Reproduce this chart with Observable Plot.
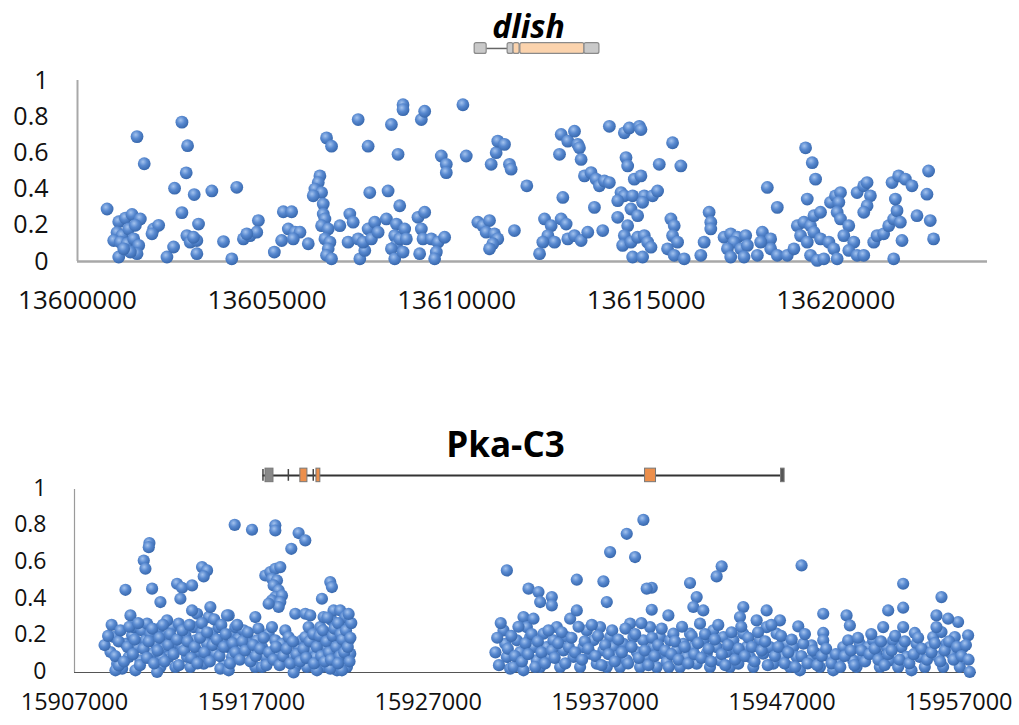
<!DOCTYPE html>
<html><head><meta charset="utf-8">
<script src="https://cdn.jsdelivr.net/npm/d3@7"></script>
<script src="https://cdn.jsdelivr.net/npm/@observablehq/plot@0.6"></script>
<style>body{margin:0;background:#fff;} #chart{width:1019px;} svg{display:block;}</style>
</head><body><div id="chart"></div>
<script>
// ---------- dlish ----------
const dlishTitle = "dlish";
const dlishDomain = [13600000, 13624000];
const dlishTicks = [13600000, 13605000, 13610000, 13615000, 13620000];
const dlishData = [
[13600780,0.29],[13601570,0.69],[13601760,0.54],[13602754,0.77],[13602903,0.64],[13602867,0.49],[13602560,0.405],[13603078,0.37],[13603543,0.39],[13604200,0.41],[13602754,0.27],
[13601087,0.22],[13601263,0.24],[13601438,0.26],[13601657,0.235],[13601043,0.16],[13601175,0.143],[13601350,0.18],[13601526,0.2],[13600955,0.116],[13601130,0.107],[13601306,0.098],[13601482,0.125],[13601614,0.089],[13601087,0.025],[13601570,0.043],[13601394,0.052],[13601219,0.07],
[13602008,0.18],[13602140,0.2],[13601964,0.153],[13602359,0.025],[13602534,0.08],[13602885,0.143],[13602973,0.107],[13603148,0.116],[13603192,0.207],[13603148,0.043],[13603060,0.134],[13603850,0.11],[13604069,0.015],[13604376,0.125],[13604551,0.143],[13604770,0.226],[13604727,0.162],[13604464,0.153],
[13605191,0.052],[13605428,0.275],[13605648,0.275],[13605560,0.18],[13605384,0.116],[13605735,0.162],[13605867,0.162],[13605691,0.125],[13606086,0.098],
[13606393,0.473],[13606349,0.436],[13606261,0.40],[13606437,0.381],[13606217,0.363],[13606481,0.317],[13606481,0.262],[13606525,0.235],[13606437,0.198],[13606612,0.18],[13606525,0.125],[13606656,0.107],[13606612,0.07],[13606568,0.034],[13606700,0.015],[13606568,0.683],[13606700,0.637],
[13606919,0.198],[13607182,0.262],[13607270,0.217],[13607138,0.107],[13607402,0.125],[13607446,0.015],[13607577,0.061],[13607665,0.18],[13607708,0.381],[13607665,0.637],[13607402,0.784],[13607533,0.107],[13607752,0.125],
[13607840,0.217],[13607928,0.162],[13608147,0.235],[13608191,0.39],[13608279,0.757],[13608454,0.592],[13608585,0.866],[13608585,0.839],[13608498,0.308],[13608410,0.207],[13608366,0.143],[13608410,0.089],[13608498,0.125],[13608279,0.07],[13608366,0.015],[13608629,0.18],[13608673,0.125],[13608585,0.052],
[13608980,0.244],[13609156,0.272],[13609068,0.18],[13609112,0.125],[13609024,0.043],[13609068,0.784],[13609156,0.83],[13609331,0.125],[13609506,0.107],[13609594,0.583],[13609726,0.537],[13609726,0.491],[13609682,0.134],[13609463,0.052],[13609419,0.015],[13610164,0.866],[13610252,0.583],
[13610559,0.217],[13610690,0.198],[13610866,0.226],[13610778,0.162],[13610997,0.153],[13611085,0.125],[13610953,0.098],[13610866,0.07],[13611523,0.171],[13610910,0.537],[13611041,0.601],[13611085,0.665],[13611261,0.647],[13611392,0.537],[13611436,0.51],[13611850,0.418],
[13612756,0.702],[13612931,0.665],[13613107,0.72],[13613194,0.647],[13613238,0.628],[13613282,0.564],[13612712,0.592],[13612800,0.354],[13613370,0.473],[13613545,0.491],[13613677,0.455],[13613764,0.418],[13613896,0.445],[13614027,0.436],[13613633,0.299],[13613852,0.171],
[13612317,0.235],[13612493,0.198],[13612756,0.235],[13612887,0.207],[13612405,0.143],[13612580,0.107],[13612931,0.125],[13613107,0.143],[13613282,0.116],[13613457,0.162],[13612273,0.107],[13612186,0.043],
[13614027,0.747],[13614422,0.711],[13614553,0.738],[13614817,0.747],[13614860,0.729],[13614466,0.574],[13614510,0.528],[13614685,0.455],[13614860,0.473],[13614334,0.381],[13614422,0.363],[13614247,0.336],[13614641,0.363],[13614948,0.363],[13615167,0.363],[13615299,0.39],[13614247,0.244],[13614597,0.29],[13614773,0.253],[13614904,0.327],[13614510,0.198],[13614422,0.143],[13614378,0.089],[13614597,0.107],[13614773,0.134],[13614948,0.143],[13615036,0.107],[13615124,0.079],[13614641,0.025],[13614904,0.025],[13615343,0.537],[13615694,0.656],[13615913,0.528],
[13615650,0.235],[13615738,0.198],[13615694,0.143],[13615825,0.107],[13615562,0.07],[13615738,0.034],[13616001,0.015],
[13616658,0.272],[13616702,0.217],[13616702,0.18],[13616527,0.107],[13616439,0.034],
[13617053,0.134],[13617228,0.153],[13617404,0.134],[13617623,0.143],[13617316,0.107],[13617141,0.07],[13617492,0.07],[13617667,0.089],[13617228,0.025],[13617579,0.025],[13617930,0.034],
[13618062,0.162],[13618281,0.125],[13618281,0.07],[13618018,0.107],[13618456,0.034],[13618193,0.409],[13618456,0.299],
[13618719,0.034],[13618895,0.07],[13618983,0.198],[13619158,0.217],[13619333,0.198],[13619070,0.143],[13619246,0.107],[13619421,0.162],[13619596,0.125],[13619333,0.034],[13619509,0.006],[13619684,0.015],[13619816,0.107],[13619947,0.07],[13620035,0.015],[13619246,0.345],[13619421,0.253],[13619596,0.272],[13619202,0.628],[13619377,0.546],[13619465,0.455],
[13619860,0.327],[13619991,0.363],[13620123,0.381],[13620079,0.327],[13620035,0.272],[13620123,0.235],[13620342,0.198],[13620210,0.143],[13620473,0.107],[13620342,0.061],[13620561,0.034],[13620736,0.034],[13620561,0.381],[13620736,0.418],[13620824,0.436],[13620912,0.363],[13620824,0.308],[13620736,0.272],
[13621000,0.107],[13621087,0.143],[13621262,0.153],[13621394,0.198],[13621526,0.235],[13621614,0.281],[13621570,0.345],[13621482,0.436],[13621657,0.473],[13621833,0.455],[13622008,0.418],[13622140,0.253],[13621701,0.217],[13621745,0.116],[13621526,0.015],[13622446,0.5],[13622403,0.372],[13622490,0.226],[13622578,0.125]
];
// gene model (genomic start/end of each feature)
const dlishIntrons = [[13610791, 13611344]];
const dlishExons = [
  [13610475, 13610791, "utr"],
  [13611344, 13611500, "utr"],
  [13611500, 13611660, "cds"],
  [13611680, 13613371, "cds"],
  [13613371, 13613765, "utr"]
];

// ---------- Pka-C3 ----------
const pkaTitle = "Pka-C3";
const pkaDomain = [15907000, 15958000];
const pkaTicks = [15907000, 15917000, 15927000, 15937000, 15947000, 15957000];
const pkaData = [
[15916057,0.807],[15917036,0.78],[15918354,0.804],[15918354,0.776],[15919672,0.762],[15920049,0.722],[15919258,0.676],[15911236,0.707],[15911199,0.685],[15910916,0.612],[15911010,0.567],[15909881,0.452],[15911387,0.458],[15911858,0.385],[15912799,0.485],[15913082,0.463],[15913647,0.476],[15912987,0.403],[15914211,0.576],[15914494,0.558],[15914306,0.525],[15917789,0.53],[15918072,0.549],[15918354,0.567],[15918636,0.576],[15918166,0.512],[15918448,0.503],[15918260,0.476],[15918542,0.449],[15918354,0.412],[15918166,0.394],[15918731,0.421],[15918636,0.385],[15918542,0.358],[15917977,0.376],[15921461,0.494],[15921555,0.467],[15920990,0.403],[15919484,0.321],[15920049,0.321],[15920331,0.312],[15917224,0.303],[15915718,0.312],
[15909221,0.194],[15909033,0.112],[15909410,0.048],[15909692,0.021],[15909881,0.157],[15910257,0.203],[15910163,0.312],[15910351,0.248],[15910540,0.139],[15910069,0.085],[15910728,0.066],[15910822,0.23],[15911010,0.176],[15909316,0.012],[15909504,0.039],[15910445,0.012],
[15911104,0.267],[15911293,0.212],[15911575,0.157],[15911387,0.103],[15911764,0.239],[15911858,0.03],[15911669,0.003],[15912046,0.13],[15912140,0.194],[15912328,0.085],[15912517,0.248],[15912611,0.157],[15912705,0.03],[15912234,0.285],[15911952,0.076],
[15912893,0.267],[15913082,0.139],[15913270,0.203],[15913364,0.085],[15913552,0.03],[15913741,0.248],[15913835,0.176],[15913929,0.321],[15914023,0.112],[15914211,0.221],[15914306,0.048],[15914494,0.157],[15914588,0.303],[15914682,0.358],[15914400,0.085],[15913647,0.339],
[15914776,0.212],[15914965,0.103],[15915153,0.248],[15915341,0.176],[15915435,0.039],[15915624,0.312],[15915718,0.139],[15915906,0.212],[15915906,0.085],[15916094,0.248],[15916283,0.185],[15916471,0.13],[15915247,0.021],[15915718,0.012],
[15916565,0.23],[15916753,0.194],[15916848,0.157],[15917036,0.103],[15917224,0.03],[15917318,0.176],[15917601,0.139],[15917789,0.085],[15917977,0.212],[15918166,0.248],[15918354,0.176],[15917601,0.03],
[15918542,0.103],[15918731,0.157],[15918919,0.23],[15919107,0.194],[15919296,0.085],[15919484,0.03],[15919672,0.139],[15919860,0.176],[15920049,0.194],[15920237,0.248],[15919390,0.0],[15920143,0.03],
[15920425,0.121],[15920614,0.085],[15920802,0.176],[15920896,0.248],[15920990,0.03],[15921179,0.139],[15921367,0.212],[15921555,0.285],[15921649,0.339],[15921743,0.103],[15921932,0.176],[15922026,0.339],[15922120,0.248],[15922214,0.139],[15922308,0.066],[15922402,0.03],[15922497,0.176],[15922308,0.303],[15921838,0.012],[15921461,0.021],[15921273,0.085],[15921084,0.303],[15922120,0.012],[15922591,0.103],[15920708,0.012],
[15908700,0.15],[15908900,0.20],[15909100,0.26],[15909300,0.09],[15909500,0.17],[15909600,0.23],[15909800,0.06],[15910000,0.14],[15910100,0.25],[15910300,0.10],[15910400,0.18],[15910600,0.27],[15910700,0.04],[15910900,0.13],[15911100,0.08],[15911200,0.17],[15911400,0.24],[15911500,0.05],[15911700,0.12],[15911800,0.19],[15912000,0.26],[15912100,0.06],[15912300,0.15],[15912400,0.21],[15912600,0.10],[15912800,0.18],[15912900,0.04],[15913100,0.23],[15913200,0.12],[15913400,0.17],[15913500,0.26],[15913600,0.08],[15913800,0.14],[15913950,0.05],[15914100,0.19],[15914200,0.27],[15914350,0.11],[15914500,0.22],[15914650,0.06],[15914800,0.15],[15914900,0.29],[15915050,0.18],[15915200,0.09],[15915300,0.26],[15915450,0.14],[15915550,0.21],[15915800,0.05],[15915950,0.16],[15916100,0.11],[15916200,0.26],[15916350,0.07],[15916500,0.17],[15916650,0.12],[15916800,0.22],[15916950,0.06],[15917100,0.15],[15917250,0.09],[15917400,0.24],[15917500,0.13],[15917700,0.19],[15917850,0.04],[15918000,0.11],[15918250,0.07],[15918400,0.14],[15918600,0.04],[15918800,0.09],[15919000,0.13],[15919200,0.05],[15919350,0.17],[15919550,0.10],[15919750,0.06],[15919950,0.13],[15920100,0.08],[15920300,0.17],[15920500,0.21],[15920550,0.05],[15920700,0.14],[15920850,0.20],[15920950,0.09],[15921050,0.23],[15921150,0.06],[15921250,0.17],[15921300,0.30],[15921400,0.11],[15921500,0.07],[15921600,0.20],[15921700,0.24],[15921800,0.14],[15921900,0.27],[15922000,0.09],[15922050,0.21],[15922150,0.18],[15922250,0.11],[15922350,0.23],[15922450,0.14],[15922550,0.06],[15922600,0.19],[15922650,0.27],[15922500,0.32],[15921900,0.05],
[15939166,0.834],[15938224,0.758],[15937283,0.658],[15938695,0.631],[15931446,0.558],[15935400,0.507],[15936906,0.498],[15939637,0.463],[15939354,0.458],[15941802,0.489],[15943591,0.58],[15943308,0.525],[15948110,0.585],[15953853,0.485],[15956019,0.412],[15953853,0.354],[15932670,0.458],[15933234,0.44],[15933988,0.412],[15933988,0.367],[15933329,0.385],[15937095,0.385],[15939637,0.343],[15940578,0.312],[15942179,0.412],[15941990,0.358],[15942555,0.339],[15944815,0.358],[15946133,0.339],[15949334,0.321],[15950652,0.312],[15953006,0.339],[15955736,0.312],[15950840,0.257],[15949334,0.216],[15954512,0.216],[15956960,0.276],[15947922,0.252],[15948675,0.148],
[15931257,0.23],[15931351,0.157],[15931446,0.085],[15931634,0.021],[15932010,0.176],[15932199,0.112],[15932387,0.303],[15932575,0.248],[15932764,0.194],[15932952,0.139],[15933140,0.066],[15933329,0.03],[15932952,0.294],[15931822,0.03],[15932387,0.012],
[15933517,0.212],[15933705,0.139],[15933893,0.085],[15934082,0.176],[15934270,0.248],[15934458,0.03],[15934647,0.121],[15934835,0.194],[15935023,0.294],[15935212,0.085],[15935400,0.339],[15935588,0.03],[15935776,0.139],[15935965,0.23],[15936153,0.103],
[15936341,0.176],[15936530,0.048],[15936718,0.248],[15936906,0.121],[15937095,0.03],[15937283,0.194],[15937471,0.139],[15937659,0.085],[15937848,0.03],[15938036,0.157],[15938224,0.066],[15938413,0.267],[15938601,0.194],[15938789,0.112],[15938978,0.03],
[15939166,0.176],[15939354,0.085],[15939542,0.248],[15939731,0.139],[15939919,0.03],[15940107,0.194],[15940296,0.103],[15940484,0.057],[15940672,0.176],[15940861,0.212],[15941049,0.121],[15941237,0.03],[15941425,0.157],[15941614,0.085],[15941802,0.212],
[15941990,0.139],[15942179,0.048],[15942367,0.267],[15942555,0.176],[15942744,0.103],[15942932,0.03],[15943120,0.23],[15943308,0.139],[15943497,0.066],[15943685,0.194],[15943873,0.112],[15944062,0.03],[15944250,0.176],[15944438,0.121],[15944627,0.303],[15944532,0.048],
[15944815,0.212],[15945003,0.139],[15945191,0.085],[15945380,0.03],[15945568,0.285],[15945756,0.176],[15945945,0.103],[15946133,0.248],[15946321,0.139],[15946510,0.048],[15946698,0.212],[15946886,0.285],[15947074,0.085],[15947263,0.157],[15947451,0.03],
[15947639,0.139],[15947828,0.085],[15948016,0.012],[15948204,0.157],[15948581,0.066],[15948957,0.103],[15949146,0.03],[15949334,0.176],[15949711,0.085],[15949899,0.012],[15950181,0.048],
[15950464,0.139],[15950746,0.176],[15951029,0.066],[15951217,0.03],[15951405,0.157],[15951594,0.085],[15951876,0.139],[15952159,0.176],[15952347,0.103],[15952535,0.03],[15952723,0.248],[15952912,0.139],[15953100,0.066],
[15953288,0.176],[15953571,0.03],[15953759,0.139],[15953853,0.248],[15954042,0.085],[15954324,0.012],[15954606,0.157],[15954795,0.085],[15955077,0.03],[15955360,0.139],[15955548,0.194],[15955830,0.085],[15956019,0.221],[15956113,0.03],[15956301,0.157],[15956584,0.103],[15956772,0.194],[15957054,0.03],[15957243,0.139],[15957525,0.203],[15957619,0.003],[15955736,0.248],[15956395,0.294],
[15930800,0.11],[15930900,0.19],[15931000,0.04],[15931100,0.27],[15931500,0.13],[15931700,0.20],[15931900,0.09],[15932100,0.25],[15932300,0.06],[15932500,0.16],[15932650,0.10],[15932850,0.21],[15933050,0.03],[15933200,0.17],[15933400,0.11],[15933600,0.05],[15933800,0.23],[15934000,0.12],[15934150,0.08],[15934350,0.16],[15934550,0.22],[15934750,0.05],[15934950,0.14],[15935100,0.19],[15935300,0.11],[15935500,0.25],[15935700,0.07],[15935850,0.17],[15936050,0.13],[15936250,0.26],[15936450,0.09],[15936600,0.20],[15936800,0.04],[15937000,0.15],[15937200,0.10],[15937400,0.23],[15937550,0.06],[15937750,0.18],[15937950,0.11],[15938150,0.24],[15938300,0.05],[15938500,0.14],[15938700,0.21],[15938900,0.08],[15939050,0.27],[15939250,0.12],[15939450,0.04],[15939650,0.19],[15939800,0.09],[15940000,0.15],[15940200,0.24],[15940400,0.12],[15940600,0.03],[15940750,0.10],[15940950,0.17],[15941150,0.07],[15941350,0.25],[15941500,0.14],[15941700,0.05],[15941900,0.20],[15942050,0.10],[15942250,0.16],[15942450,0.08],[15942650,0.21],[15942850,0.13],[15943000,0.06],[15943200,0.18],[15943400,0.26],[15943600,0.10],[15943800,0.04],[15943950,0.15],[15944150,0.22],[15944350,0.07],[15944550,0.13],[15944700,0.25],[15944900,0.09],[15945100,0.19],[15945300,0.14],[15945450,0.06],[15945650,0.22],[15945850,0.12],[15946050,0.17],[15946200,0.04],[15946400,0.26],[15946600,0.09],[15946800,0.14],[15946950,0.20],[15947150,0.05],[15947350,0.11],[15947550,0.18],[15947750,0.03],[15948100,0.09],[15948300,0.21],[15948450,0.05],[15948750,0.12],[15949000,0.04],[15949250,0.09],[15949500,0.13],[15949800,0.05],[15950050,0.10],[15950300,0.03],[15950550,0.09],[15950900,0.12],[15951100,0.04],[15951300,0.19],[15951500,0.12],[15951700,0.06],[15951950,0.10],[15952050,0.21],[15952250,0.13],[15952450,0.07],[15952600,0.17],[15952800,0.04],[15953000,0.10],[15953200,0.12],[15953400,0.20],[15953650,0.07],[15953950,0.17],[15954200,0.05],[15954450,0.10],[15954700,0.19],[15954900,0.13],[15955200,0.07],[15955450,0.11],[15955650,0.16],[15955950,0.06],[15956200,0.12],[15956450,0.17],[15956700,0.07],[15956900,0.14],[15957150,0.09],[15957400,0.15],[15957550,0.07]
];
const pkaIntrons = [[15917656, 15946950]];
const pkaExons = [
  [15917800, 15918250, "utr"],
  [15919770, 15920170, "cds"],
  [15920680, 15920900, "cds"],
  [15939260, 15939880, "cds"],
  [15946950, 15947150, "end"]
];
const pkaTicksGene = [15917656, 15919091, 15920500];

const yTicks = [0, 0.2, 0.4, 0.6, 0.8, 1];

function addBalls(svg, id) {
  const s = d3.select(svg);
  s.insert("defs", ":first-child").html(
    `<radialGradient id="${id}" cx="0.4" cy="0.35" r="0.7">
      <stop offset="0" stop-color="#a4c3ee"/>
      <stop offset="0.45" stop-color="#5889d0"/>
      <stop offset="1" stop-color="#3363a8"/>
    </radialGradient>`);
  s.selectAll('g[aria-label="dot"]').attr("fill", `url(#${id})`);
  s.selectAll('g[aria-label="dot"] circle').attr("fill", `url(#${id})`);
}

const fillOf = k => k === "cds" ? "#fbd3ad" : k === "end" ? "#555" : "#c9c9c9";

const dlishPlot = Plot.plot({
  width: 1019, height: 330,
  marginTop: 80, marginBottom: 69, marginLeft: 77, marginRight: 32,
  style: {fontFamily: "'Open Sans', sans-serif", color: "#111", background: "white", overflow: "visible"},
  x: {domain: dlishDomain},
  y: {domain: [0, 1]},
  marks: [
    Plot.axisX(dlishTicks, {tickSize: 0, tickPadding: 29, fontSize: 26, tickFormat: d => String(d)}),
    Plot.axisY(yTicks, {tickSize: 0, tickPadding: 29, fontSize: 25, tickFormat: d => String(d)}),
    Plot.ruleX([dlishDomain[0]], {y1: 0, y2: 1, stroke: "#a8a8a8", strokeWidth: 2}),
    Plot.ruleY([0], {x1: dlishDomain[0], x2: dlishDomain[1], stroke: "#a8a8a8", strokeWidth: 2.5}),
    Plot.ruleY(dlishIntrons, {x1: d => d[0], x2: d => d[1], y: 1.177, stroke: "#666", strokeWidth: 1.5}),
    Plot.rect(dlishExons, {x1: d => d[0], x2: d => d[1], y1: 1.147, y2: 1.207, fill: d => fillOf(d[2]), stroke: "#8a8a8a", strokeWidth: 1.2, rx: 2}),
    Plot.dot(dlishData, {x: d => d[0], y: d => d[1], r: 6.4, fill: "#4f81bd"}),
    Plot.text([dlishTitle], {frameAnchor: "top", lineAnchor: "bottom", dy: -43, dx: -4, fontSize: 32, fontWeight: "bold", fontStyle: "italic", fill: "#000"})
  ]
});
addBalls(dlishPlot, "ballTop");

const pkaPlot = Plot.plot({
  width: 1019, height: 395,
  marginTop: 159, marginBottom: 53, marginLeft: 74, marginRight: 43,
  style: {fontFamily: "'Open Sans', sans-serif", color: "#111", background: "white", overflow: "visible"},
  x: {domain: pkaDomain},
  y: {domain: [0, 1]},
  marks: [
    Plot.axisX(pkaTicks, {tickSize: 0, tickPadding: 21, fontSize: 23.5, tickFormat: d => String(d)}),
    Plot.axisY(yTicks, {tickSize: 0, tickPadding: 28, fontSize: 23, dy: -1, tickFormat: d => String(d)}),
    Plot.ruleX([pkaDomain[0]], {y1: 0, y2: 1, stroke: "#9a9a9a", strokeWidth: 1.2}),
    Plot.ruleY([0], {x1: pkaDomain[0], x2: pkaDomain[1], stroke: "#555", strokeWidth: 1.2}),
    Plot.ruleY(pkaIntrons, {x1: d => d[0], x2: d => d[1], y: 1.077, stroke: "#333", strokeWidth: 2}),
    Plot.ruleX(pkaTicksGene, {x: d => d, y1: 1.045, y2: 1.109, stroke: "#444", strokeWidth: 1.5}),
    Plot.rect(pkaExons, {x1: d => d[0], x2: d => d[1], y1: 1.04, y2: 1.114, fill: d => d[2] === "cds" ? "#ec8f4c" : d[2] === "end" ? "#555" : "#888", stroke: "#777", strokeWidth: 1}),
    Plot.dot(pkaData, {x: d => d[0], y: d => d[1], r: 6.1, fill: "#4f81bd"}),
    Plot.text([pkaTitle], {frameAnchor: "top", lineAnchor: "bottom", dy: -33, dx: -20, fontSize: 35, fontWeight: "bold", fill: "#000"})
  ]
});
addBalls(pkaPlot, "ballBottom");

document.getElementById("chart").append(dlishPlot, pkaPlot);
</script>
</body></html>
